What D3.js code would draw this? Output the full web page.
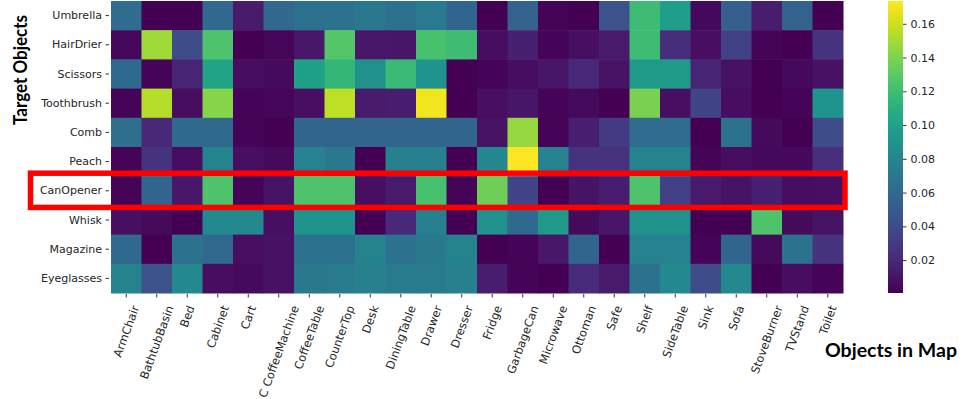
<!DOCTYPE html>
<html lang="en">
<head>
    <meta charset="UTF-8">
    <title>Heatmap - Target Objects vs Objects in Map</title>
    <script src="https://cdn.jsdelivr.net/npm/d3@7"></script>
    <style>
        body { margin: 0; background: #fff; }
        svg { display: block; }
    </style>
</head>
<body>
<script type="application/javascript">
    // rows (target objects) and columns (objects in map)
    const targets = ['Umbrella', 'HairDrier', 'Scissors', 'Toothbrush', 'Comb',
        'Peach', 'CanOpener', 'Whisk', 'Magazine', 'Eyeglasses'];
    const mapObjects = ['ArmChair', 'BathtubBasin', 'Bed', 'Cabinet', 'Cart',
        'C CoffeeMachine', 'CoffeeTable', 'CounterTop', 'Desk', 'DiningTable',
        'Drawer', 'Dresser', 'Fridge', 'GarbageCan', 'Microwave', 'Ottoman',
        'Safe', 'Shelf', 'SideTable', 'Sink', 'Sofa', 'StoveBurner', 'TVStand', 'Toilet'];

    // one array per target row
    const umbrella   = [0.061, 0.001, 0.001, 0.058, 0.013, 0.058, 0.065, 0.065, 0.070, 0.065, 0.071, 0.056, 0.001, 0.054, 0.002, 0.001, 0.044, 0.120, 0.097, 0.004, 0.052, 0.014, 0.054, 0.001];
    const hairDrier  = [0.004, 0.149, 0.040, 0.125, 0.001, 0.003, 0.011, 0.127, 0.011, 0.010, 0.123, 0.120, 0.006, 0.016, 0.002, 0.007, 0.012, 0.120, 0.023, 0.007, 0.033, 0.002, 0.001, 0.026];
    const scissors   = [0.059, 0.002, 0.018, 0.101, 0.006, 0.005, 0.099, 0.115, 0.087, 0.118, 0.090, 0.001, 0.002, 0.006, 0.010, 0.020, 0.009, 0.094, 0.094, 0.018, 0.008, 0.001, 0.004, 0.008];
    const toothbrush = [0.002, 0.154, 0.006, 0.142, 0.002, 0.003, 0.007, 0.156, 0.012, 0.014, 0.170, 0.001, 0.007, 0.010, 0.002, 0.005, 0.001, 0.139, 0.007, 0.035, 0.006, 0.001, 0.002, 0.090];
    const comb       = [0.063, 0.020, 0.059, 0.059, 0.002, 0.001, 0.056, 0.056, 0.056, 0.056, 0.056, 0.056, 0.009, 0.146, 0.002, 0.015, 0.030, 0.061, 0.061, 0.001, 0.066, 0.005, 0.001, 0.040];
    const peach      = [0.002, 0.026, 0.006, 0.078, 0.007, 0.005, 0.077, 0.070, 0.001, 0.075, 0.075, 0.001, 0.080, 0.173, 0.077, 0.026, 0.025, 0.078, 0.078, 0.002, 0.006, 0.004, 0.004, 0.024];
    const canOpener  = [0.002, 0.056, 0.011, 0.125, 0.002, 0.009, 0.125, 0.125, 0.007, 0.012, 0.123, 0.002, 0.135, 0.035, 0.001, 0.009, 0.014, 0.125, 0.033, 0.012, 0.009, 0.016, 0.006, 0.007];
    const whisk      = [0.007, 0.005, 0.001, 0.082, 0.082, 0.007, 0.090, 0.090, 0.001, 0.020, 0.075, 0.001, 0.087, 0.059, 0.094, 0.005, 0.010, 0.087, 0.087, 0.001, 0.001, 0.125, 0.005, 0.009];
    const magazine   = [0.058, 0.001, 0.066, 0.058, 0.007, 0.008, 0.066, 0.066, 0.078, 0.065, 0.070, 0.078, 0.001, 0.002, 0.011, 0.056, 0.001, 0.077, 0.077, 0.002, 0.056, 0.005, 0.066, 0.026];
    const eyeglasses = [0.078, 0.044, 0.082, 0.006, 0.005, 0.008, 0.070, 0.071, 0.075, 0.071, 0.071, 0.075, 0.014, 0.002, 0.001, 0.021, 0.012, 0.066, 0.082, 0.040, 0.082, 0.001, 0.006, 0.002];

    const rowsData = [umbrella, hairDrier, scissors, toothbrush, comb, peach, canOpener, whisk, magazine, eyeglasses];
    const colorbarTicks = [0.02, 0.04, 0.06, 0.08, 0.10, 0.12, 0.14, 0.16];
    const vmin = 0.0005, vmax = 0.1735;
    const highlighted = 'CanOpener';

    const w = 978, h = 399;
    let svg = d3.select('body')
        .append('svg')
        .attr('width', w)
        .attr('height', h);

    // cells
    let xScale = d3.scaleBand().domain(mapObjects).range([111, 843]);
    let yScale = d3.scaleBand().domain(targets).range([1, 293]);
    let color = d3.scaleSequential(d3.interpolateViridis).domain([vmin, vmax]);

    let cells = [];
    rowsData.forEach((row, i) => row.forEach((v, j) => cells.push({r: targets[i], c: mapObjects[j], v: v})));

    svg.append('g').selectAll('rect')
        .data(cells)
        .enter()
        .append('rect')
        .attr('x', d => xScale(d.c))
        .attr('y', d => yScale(d.r))
        .attr('width', xScale.bandwidth() + 0.5)
        .attr('height', yScale.bandwidth() + 0.5)
        .attr('fill', d => color(d.v));

    const tickFont = '"DejaVu Sans", sans-serif';

    // y axis
    let yAxis = svg.append('g')
        .attr('transform', 'translate(109,0)')
        .call(d3.axisLeft(yScale).tickSize(3.5).tickPadding(3.5));
    yAxis.select('.domain').remove();
    yAxis.selectAll('line').attr('stroke', '#333');
    yAxis.selectAll('text')
        .attr('font-family', tickFont)
        .attr('font-size', '11px')
        .attr('fill', '#262626');

    // x axis, labels rotated 70 deg and centred under the tick like matplotlib
    let xAxis = svg.append('g')
        .attr('transform', 'translate(0,294)')
        .call(d3.axisBottom(xScale).tickSize(3.5));
    xAxis.select('.domain').remove();
    xAxis.selectAll('line').attr('stroke', '#333');
    const angle = 70, rad = angle * Math.PI / 180, fs = 11.5;
    xAxis.selectAll('text')
        .attr('font-family', tickFont)
        .attr('font-size', fs + 'px')
        .attr('fill', '#262626')
        .attr('y', 0)
        .attr('dy', '0.35em')
        .attr('text-anchor', 'middle')
        .each(function () {
            let L = this.getComputedTextLength();
            let H = L * Math.sin(rad) + fs * Math.cos(rad);
            d3.select(this).attr('transform', `translate(0,${10 + H / 2}) rotate(${-angle})`);
        });

    // colorbar
    const cbX = 888, cbW = 15;
    let cbScale = d3.scaleLinear().domain([vmin, vmax]).range([293, 1]);
    let grad = svg.append('defs').append('linearGradient')
        .attr('id', 'viridis')
        .attr('x1', 0).attr('y1', 1).attr('x2', 0).attr('y2', 0);
    grad.selectAll('stop')
        .data(d3.range(0, 1.0001, 0.05))
        .enter()
        .append('stop')
        .attr('offset', d => d)
        .attr('stop-color', d => d3.interpolateViridis(d));
    svg.append('rect')
        .attr('x', cbX)
        .attr('y', cbScale(vmax))
        .attr('width', cbW)
        .attr('height', cbScale(vmin) - cbScale(vmax))
        .attr('fill', 'url(#viridis)');
    let cbAxis = svg.append('g')
        .attr('transform', `translate(${cbX + cbW},0)`)
        .call(d3.axisRight(cbScale).tickValues(colorbarTicks).tickFormat(d3.format('.2f')).tickSize(3.5).tickPadding(4));
    cbAxis.select('.domain').remove();
    cbAxis.selectAll('line').attr('stroke', '#333');
    cbAxis.selectAll('text')
        .attr('font-family', tickFont)
        .attr('font-size', '11px')
        .attr('fill', '#262626');

    // axis titles
    svg.append('text')
        .text('Target Objects')
        .attr('transform', 'translate(27,70) rotate(-90)')
        .attr('text-anchor', 'middle')
        .attr('font-family', 'Lato, "Open Sans", sans-serif')
        .attr('font-weight', 'bold')
        .attr('font-size', '19px')
        .attr('textLength', 110)
        .attr('lengthAdjust', 'spacingAndGlyphs')
        .attr('fill', '#000');
    svg.append('text')
        .text('Objects in Map')
        .attr('x', 825)
        .attr('y', 357)
        .attr('font-family', 'Lato, "Open Sans", sans-serif')
        .attr('font-weight', 'bold')
        .attr('font-size', '19px')
        .attr('textLength', 132)
        .attr('lengthAdjust', 'spacingAndGlyphs')
        .attr('fill', '#000');

    // red highlight box around one row
    svg.append('rect')
        .attr('x', 30.5)
        .attr('y', yScale(highlighted) - 3)
        .attr('width', xScale.range()[1] + 2 - 30.5)
        .attr('height', yScale.bandwidth() + 5)
        .attr('fill', 'none')
        .attr('stroke', '#ff0000')
        .attr('stroke-width', 5.5);
</script>
</body>
</html>
